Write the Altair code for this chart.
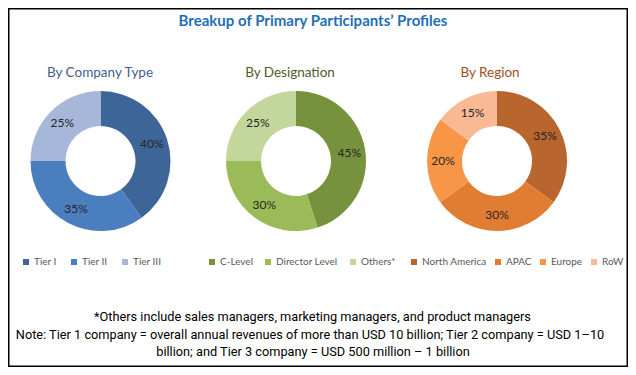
import altair as alt
import pandas as pd

# ---- data ----
company_labels = ["Tier I", "Tier II", "Tier III"]
company_values = [40, 35, 25]
company_colors = ["#3E6598", "#4A7EBE", "#A7B7D9"]

designation_labels = ["C-Level", "Director Level", "Others*"]
designation_values = [45, 30, 25]
designation_colors = ["#76923C", "#9BBB59", "#C3D69B"]

region_labels = ["North America", "APAC", "Europe", "RoW"]
region_values = [35, 30, 20, 15]
region_colors = ["#B8652E", "#E07D33", "#F79646", "#F9B994"]

main_title = "Breakup of Primary Participants\u2019 Profiles"
panel_titles = ["By Company Type", "By Designation", "By Region"]
panel_title_colors = ["#3F5E8E", "#4F5B2B", "#9E4F1C"]
footnote_1 = "*Others include sales managers, marketing managers, and product managers"
footnote_2 = "Note: Tier 1 company = overall annual revenues of more than USD 10 billion; Tier 2 company = USD 1\u201310"
footnote_3 = "billion; and Tier 3 company = USD 500 million \u2013 1 billion"

W, H = 620, 359
CY = 153
FONT = "Lato"
NOTE_FONT = "Roboto"


def donut(labels, values, colors, cx, lx, ly, col_pad):
    df = pd.DataFrame({
        "label": labels,
        "value": values,
        "order": list(range(len(labels))),
        "pct": [f"{v}%" for v in values],
    })
    base = alt.Chart(df).encode(
        theta=alt.Theta("value:Q", stack=True),
        order=alt.Order("order:Q"),
    )
    arc = base.mark_arc(innerRadius=35, outerRadius=70).encode(
        x=alt.value(cx), y=alt.value(CY),
        color=alt.Color(
            "label:N",
            scale=alt.Scale(domain=labels, range=colors),
            sort=labels,
            legend=alt.Legend(
                title=None, orient="none", legendX=lx, legendY=ly,
                direction="horizontal", symbolType="square", symbolSize=36,
                symbolStrokeWidth=0, labelFont=FONT, labelFontSize=10,
                labelColor="#595959", labelOffset=3, columnPadding=col_pad,
                padding=0, gridAlign="none",
            ),
        ),
    )
    txt = base.mark_text(radius=54, font=FONT, fontSize=12, color="#262626").encode(
        x=alt.value(cx), y=alt.value(CY), text="pct:N",
    )
    return arc, txt


a1, t1 = donut(company_labels, company_values, company_colors, 92.5, 13, 249, 12)
a2, t2 = donut(designation_labels, designation_values, designation_colors, 288, 199, 249, 10)
a3, t3 = donut(region_labels, region_values, region_colors, 489, 401, 249, 6)

one = pd.DataFrame({"a": [0]})


def label(text, x, y, size, color, weight="normal", font=FONT):
    return alt.Chart(one).mark_text(
        text=text, font=font, fontSize=size, color=color, fontWeight=weight,
        align="center", baseline="middle",
    ).encode(x=alt.value(x), y=alt.value(y))


title = label(main_title, 305, 13, 15, "#1F6FB6", "bold")
s1 = label(panel_titles[0], 92, 65, 13.5, panel_title_colors[0])
s2 = label(panel_titles[1], 282, 65, 13.5, panel_title_colors[1])
s3 = label(panel_titles[2], 482, 65, 13.5, panel_title_colors[2])
f1 = label(footnote_1, 304.5, 309, 12.75, "#000000", font=NOTE_FONT)
f2 = label(footnote_2, 302, 327, 12.75, "#000000", font=NOTE_FONT)
f3 = label(footnote_3, 305, 344, 12.75, "#000000", font=NOTE_FONT)

border = alt.Chart(one).mark_rect(filled=False, stroke="#000000", strokeWidth=1.5).encode(
    x=alt.value(0.75), x2=alt.value(W - 0.75), y=alt.value(0.75), y2=alt.value(H - 0.75)
)

chart = alt.layer(
    border, a1, t1, a2, t2, a3, t3, title, s1, s2, s3, f1, f2, f3
).resolve_scale(
    color="independent", theta="independent"
).properties(
    width=W, height=H, autosize=alt.AutoSizeParams(type="none"), padding=0,
    background="white",
).configure_view(stroke=None)

chart.save("out.html", embed_options={"renderer": "svg", "actions": False})
